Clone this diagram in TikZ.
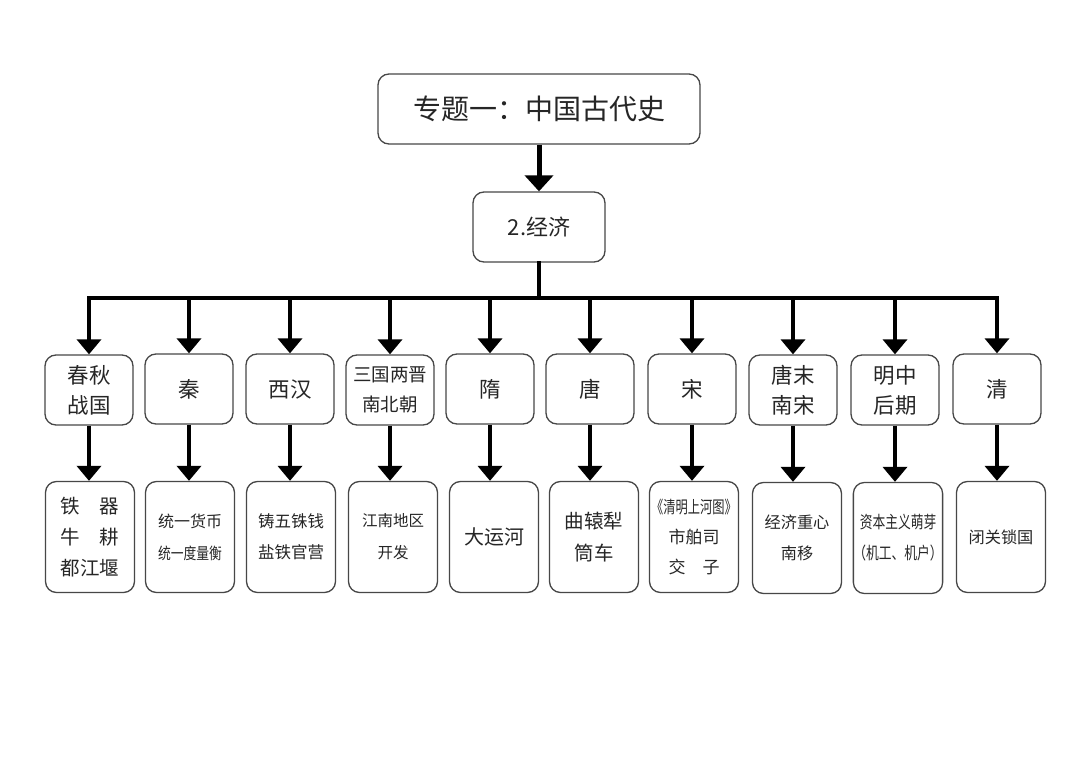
\documentclass[tikz,border=0pt]{standalone}
\usepackage{fontspec}
\setmainfont{Noto Sans CJK SC}
\usetikzlibrary{arrows.meta}
\begin{document}
\begin{tikzpicture}[x=1pt,y=-1pt,
  box/.style={draw=black!72, line width=1.3pt, rounded corners=11pt, fill=white,
    text=black!85, align=center, inner sep=0pt},
  topbox/.style={box, minimum width=322pt, minimum height=70pt, font=\fontsize{28}{34}\selectfont},
  secbox/.style={box, minimum width=132pt, minimum height=70pt, font=\fontsize{22}{28}\selectfont},
  erabox/.style={box, minimum width=88pt, minimum height=70pt, font=\fontsize{21.5}{30}\selectfont},
  itembox/.style={box, minimum width=89pt, minimum height=111pt, font=\fontsize{19.5}{31}\selectfont},
  bigarr/.style={line width=5pt, -{Triangle[width=28pt,length=16pt]}},
  arr/.style={line width=4pt, -{Triangle[width=24pt,length=15pt]}},
  busline/.style={line width=4pt, line cap=rect}]
\fill[white] (0,0) rectangle (1080,762);
\useasboundingbox (0,0) rectangle (1080,762);

\node[topbox] (t) at (539,109) {专题一：中国古代史};
\node[secbox] (e) at (539,227) {2.经济};

\node[erabox] (a1) at (89,390)  {春秋\\战国};
\node[erabox] (a2) at (189,389) {秦};
\node[erabox] (a3) at (290,389) {西汉};
\node[erabox, font=\fontsize{18.5}{30}\selectfont] (a4) at (390,390) {三国两晋\\南北朝};
\node[erabox] (a5) at (490,389) {隋};
\node[erabox] (a6) at (590,389) {唐};
\node[erabox] (a7) at (692,389) {宋};
\node[erabox] (a8) at (793,390) {唐末\\南宋};
\node[erabox] (a9) at (895,390) {明中\\后期};
\node[erabox] (a10) at (997,389) {清};

\node[itembox] (b1) at (90,537)  {铁\hspace{1em}器\\牛\hspace{1em}耕\\都江堰};
\node[itembox, font=\fontsize{16}{32}\selectfont] (b2) at (190,537) {统一货币\\\scalebox{0.8}[1]{统一度量衡}};
\node[itembox, font=\fontsize{16.5}{31}\selectfont] (b3) at (291,537) {铸五铢钱\\盐铁官营};
\node[itembox, font=\fontsize{15.5}{32}\selectfont] (b4) at (393,537) {江南地区\\开发};
\node[itembox, font=\fontsize{20}{31}\selectfont] (b5) at (494,537) {大运河};
\node[itembox, font=\fontsize{19.5}{32}\selectfont] (b6) at (594,537) {曲辕犁\\筒车};
\node[itembox, font=\fontsize{17}{30}\selectfont] (b7) at (694,537) {\scalebox{0.72}[1]{《清明上河图》}\\市舶司\\交\hspace{1em}子};
\node[itembox, font=\fontsize{16.2}{31}\selectfont] (b8) at (797,538) {经济重心\\南移};
\node[itembox, font=\fontsize{17}{31}\selectfont] (b9) at (898,538) {\scalebox{0.75}[1]{资本主义萌芽}\\\scalebox{0.75}[1]{（机工、机户）}};
\node[itembox, font=\fontsize{16.2}{31}\selectfont] (b10) at (1001,537) {闭关锁国};

\draw[bigarr] (t.south) -- (e.north);
\coordinate (bus) at (539,298);
\draw[busline] (e.south) -- (bus);
\draw[busline] (a1.north |- bus) -- (a10.north |- bus);
\foreach \i in {1,...,10}{
  \draw[arr] (a\i.north |- bus) -- (a\i.north);
  \draw[arr] (a\i.south) -- (a\i.south |- b\i.north);
}
\end{tikzpicture}
\end{document}
